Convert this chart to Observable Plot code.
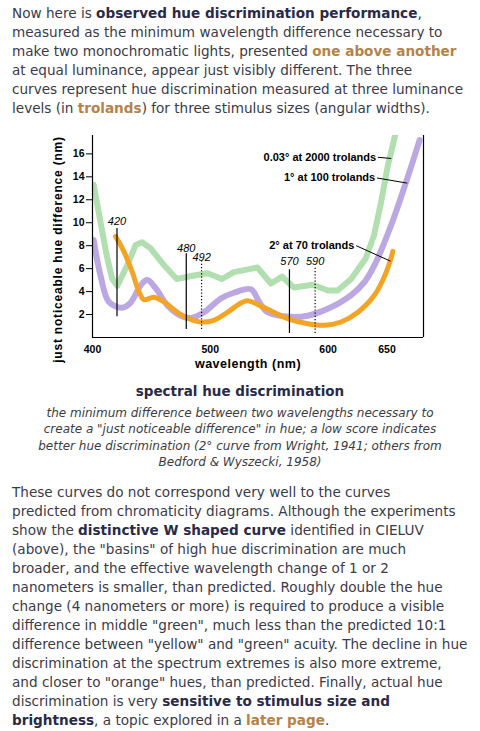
<!DOCTYPE html>
<html>
<head>
<meta charset="utf-8">
<script src="https://cdn.jsdelivr.net/npm/d3@7"></script>
<script src="https://cdn.jsdelivr.net/npm/@observablehq/plot@0.6"></script>
<style>
  html, body { margin: 0; padding: 0; background: #ffffff; }
  body { width: 480px; font-family: "DejaVu Sans", Verdana, sans-serif; color: #3a3a4a; }
  p.txt { margin: 0; padding-left: 12px; font-size: 13.6px; line-height: 19px; white-space: nowrap; }
  p.txt b { color: #2a2a48; }
  p.txt a { color: #b5834a; font-weight: bold; text-decoration: none; }
  #top { padding-top: 3.5px; }
  #chart { margin-top: 4px; height: 250px; }
  #chart svg { display: block; }
  .ctitle { margin: 10.5px 0 0 0; text-align: center; font-weight: bold; font-size: 13.5px; line-height: 19px; color: #2a2a48; }
  .ccap { margin: 4px 0 0 0; text-align: center; font-style: italic; font-size: 12px; line-height: 16.3px; color: #3c3c44; white-space: nowrap; }
  #bottom { margin-top: 13px; }
</style>
</head>
<body>
<p class="txt" id="top">Now here is <b>observed hue discrimination performance</b>,<br>measured as the minimum wavelength difference necessary to<br>make two monochromatic lights, presented <a>one above another</a><br>at equal luminance, appear just visibly different. The three<br>curves represent hue discrimination measured at three luminance<br>levels (in <a>trolands</a>) for three stimulus sizes (angular widths).</p>
<div id="chart"></div>
<div class="ctitle">spectral hue discrimination</div>
<div class="ccap">the minimum difference between two wavelengths necessary to<br>create a "just noticeable difference" in hue; a low score indicates<br>better hue discrimination (2° curve from Wright, 1941; others from<br>Bedford &amp; Wyszecki, 1958)</div>
<p class="txt" id="bottom">These curves do not correspond very well to the curves<br>predicted from chromaticity diagrams. Although the experiments<br>show the <b>distinctive W shaped curve</b> identified in CIELUV<br>(above), the "basins" of high hue discrimination are much<br>broader, and the effective wavelength change of 1 or 2<br>nanometers is smaller, than predicted. Roughly double the hue<br>change (4 nanometers or more) is required to produce a visible<br>difference in middle "green", much less than the predicted 10:1<br>difference between "yellow" and "green" acuity. The decline in hue<br>discrimination at the spectrum extremes is also more extreme,<br>and closer to "orange" hues, than predicted. Finally, actual hue<br>discrimination is very <b>sensitive to stimulus size and<br>brightness</b>, a topic explored in a <a>later page</a>.</p>
<script>
// ---- data (wavelength nm, just noticeable difference nm) ----
const greenWl  = [401, 412.5, 416.8, 421, 429.5, 436.6, 442, 449, 460.7, 471.5, 486, 497.6, 510, 520, 540, 551.5, 561, 571, 587, 600, 608, 619.6, 632, 639, 645, 650.8, 656.4, 658];
const greenJnd = [13.3, 6.9, 5.1, 4.5, 6.3, 8.05, 8.3, 7.8, 6.3, 5.1, 5.4, 5.6, 5.1, 5.7, 6.1, 4.7, 5.3, 4.36, 4.6, 4.1, 4.1, 5.1, 6.9, 8.9, 11.8, 15.0, 17.4, 18.2];

const purpleWl  = [401, 406.8, 414, 425, 432, 441, 446.5, 453.6, 463.6, 475, 483.4, 494.7, 509, 520, 534.5, 541.5, 548.7, 568.5, 582.7, 599.7, 619.6, 631, 639.4, 653.6, 666.4, 677.7];
const purpleJnd = [8.5, 5.4, 3.1, 2.6, 3.0, 4.56, 5.0, 4.3, 2.8, 1.9, 1.7, 2.2, 3.4, 3.9, 4.2, 3.1, 2.2, 1.8, 1.9, 2.5, 3.7, 4.85, 6.3, 9.8, 13.6, 17.2];

const orangeWl  = [419.6, 426.6, 433.8, 439.4, 443.7, 452, 460.7, 472, 480.6, 492, 503, 514.6, 526, 531.7, 545.8, 565.7, 582.7, 596.9, 611, 625.3, 639.4, 649.4, 655];
const orangeJnd = [8.8, 7.5, 5.7, 4.0, 3.3, 3.5, 3.1, 2.2, 1.7, 1.35, 1.5, 2.2, 3.0, 3.2, 2.6, 1.65, 1.2, 1.07, 1.35, 2.2, 3.7, 5.7, 7.5];

// marker lines
const markWl     = [420.8, 479.6, 492.6, 567.2, 589];
const markLabels = ["420", "480", "492", "570", "590"];
const markLow    = [1.8, 0.7, 0.7, 0.35, 0.35];
const markHigh   = [9.5, 7.3, 6.6, 5.9, 6.15];
const markDotted = [false, false, true, false, true];
const markLabelY = [10.1, 7.73, 6.96, 6.63, 6.63];

// series labels
const seriesNames = ["0.03° at 2000 trolands", "1° at 100 trolands", "2° at 70 trolands"];
const seriesLabelWl  = [640.8, 640, 622.3];
const seriesLabelJnd = [15.7, 13.9, 8.0];
const leaderWl2  = [653.6, 667.2, 653];
const leaderJnd2 = [15.6, 13.45, 6.65];

const xTicks = [400, 500, 600, 650];
const yTicks = [2, 4, 6, 8, 10, 12, 14, 16];
const xLabel = "wavelength (nm)";
const yLabel = "just noticeable hue difference (nm)";

const toRows = (xs, ys) => xs.map((x, i) => ({wl: x, jnd: ys[i]}));
const green = toRows(greenWl, greenJnd);
const purple = toRows(purpleWl, purpleJnd);
const orange = toRows(orangeWl, orangeJnd);
const marks = markWl.map((w, i) => ({wl: w, lo: markLow[i], hi: markHigh[i], dotted: markDotted[i], label: markLabels[i], ly: markLabelY[i]}));
const series = seriesNames.map((n, i) => ({name: n, x: seriesLabelWl[i], y: seriesLabelJnd[i], x2: leaderWl2[i], y2: leaderJnd2[i]}));

const FONT = "'Liberation Sans', Arial, Helvetica, sans-serif";

const chart = Plot.plot({
  width: 480,
  height: 250,
  marginLeft: 92,
  marginRight: 57,
  marginTop: 13,
  marginBottom: 35,
  style: {fontFamily: FONT, fontWeight: "bold", background: "transparent", color: "#000"},
  x: {domain: [400, 681]},
  y: {domain: [0, 17.6]},
  marks: [
    Plot.line(green, {x: "wl", y: "jnd", stroke: "#b2dfb0", strokeWidth: 6, curve: "linear", strokeLinejoin: "round", clip: true}),
    Plot.line(purple, {x: "wl", y: "jnd", stroke: "#bba8e2", strokeWidth: 6, curve: "catmull-rom", clip: true}),
    Plot.line(orange, {x: "wl", y: "jnd", stroke: "#f4a424", strokeWidth: 5, curve: "catmull-rom", clip: true}),
    Plot.ruleX(marks.filter(d => !d.dotted), {x: "wl", y1: "lo", y2: "hi", stroke: "#000", strokeWidth: 1.2}),
    Plot.ruleX(marks.filter(d => d.dotted), {x: "wl", y1: "lo", y2: "hi", stroke: "#000", strokeWidth: 1.2, strokeDasharray: "1.2,2"}),
    Plot.text(marks, {x: "wl", y: "ly", text: "label", fontStyle: "italic", fontWeight: "normal", fontSize: 11, fill: "#000"}),
    Plot.link(series, {x1: d => d.x + 1.5, y1: "y", x2: "x2", y2: "y2", stroke: "#000", strokeWidth: 1}),
    Plot.text(series, {x: "x", y: "y", text: "name", textAnchor: "end", fontWeight: "bold", fontSize: 11, fill: "#000"}),
    Plot.ruleX([400], {stroke: "#000", strokeWidth: 1.2}),
    Plot.ruleX([681], {stroke: "#000", strokeWidth: 1.2}),
    Plot.ruleY([0], {stroke: "#000", strokeWidth: 1.2}),
    Plot.axisY({ticks: yTicks, tickSize: 6, tickPadding: 2, fontWeight: "bold", fontSize: 10.5, label: null, stroke: "#000", fill: "#000"}),
    Plot.axisX({ticks: xTicks, tickSize: 0, tickPadding: 8, fontWeight: "bold", fontSize: 10.5, label: null, fill: "#000"}),
    Plot.text([xLabel], {frameAnchor: "bottom", lineAnchor: "middle", textAnchor: "middle", dy: 26, dx: -10, fontWeight: "bold", fontSize: 12.5, fill: "#000"}),
    Plot.text([yLabel], {frameAnchor: "left", lineAnchor: "middle", textAnchor: "middle", rotate: -90, dx: -34, dy: 13, fontWeight: "bold", fontSize: 12, fill: "#000"})
  ]
});
d3.select(chart).selectAll("text")
  .filter(function () { return this.textContent === yLabel; })
  .attr("letter-spacing", "0.8");
d3.select(chart).selectAll("text")
  .filter(function () { return this.textContent === xLabel; })
  .attr("letter-spacing", "0.5");
document.getElementById("chart").appendChild(chart);
</script>
</body>
</html>
